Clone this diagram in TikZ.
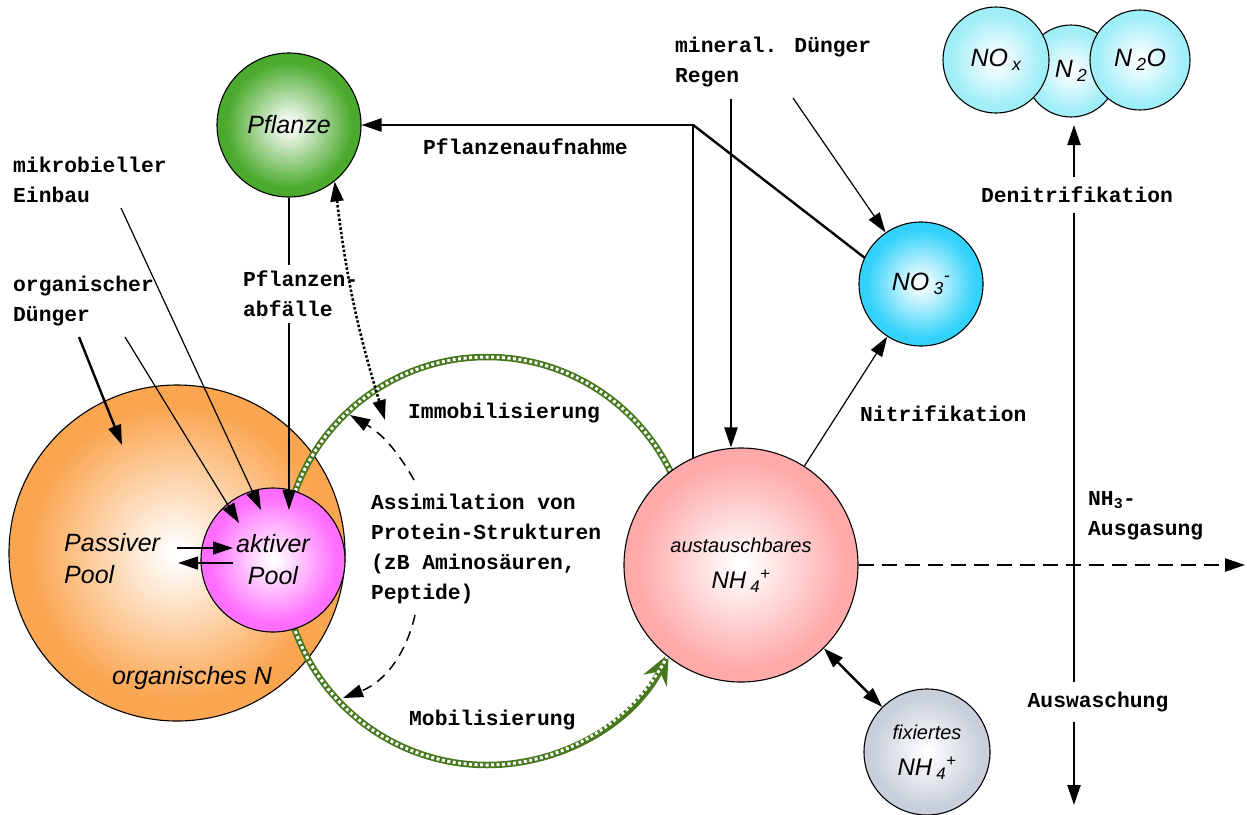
\documentclass[tikz,border=0pt]{standalone}
\usepackage{fontspec}
\newfontfamily\monofam{Liberation Mono}
\newfontfamily\sansfam{Liberation Sans}
\usetikzlibrary{arrows.meta}
\definecolor{orgN}{RGB}{250,165,80}
\definecolor{aktP}{RGB}{255,110,255}
\definecolor{pflG}{RGB}{75,170,45}
\definecolor{ausP}{RGB}{255,170,170}
\definecolor{noC}{RGB}{50,210,250}
\definecolor{gasC}{RGB}{160,238,248}
\definecolor{fixG}{RGB}{200,207,218}
\definecolor{hgreen}{RGB}{70,120,30}
\colorlet{ballin}{white}\colorlet{ballout}{gray}
\pgfdeclareradialshading[ballin,ballout]{ball}{\pgfpoint{0bp}{0bp}}{color(0bp)=(ballin); color(1bp)=(ballin); color(22bp)=(ballout); color(50bp)=(ballout)}
\newcommand{\labfont}{\monofam\bfseries\fontsize{21.3}{30}\selectfont}
\newcommand{\ballfont}{\sansfam\itshape\fontsize{25}{32}\selectfont}
\newcommand{\smallballfont}{\sansfam\itshape\fontsize{20}{36}\selectfont}
\newcommand{\nhfour}{{\fontsize{24}{36}\selectfont NH\,\textsubscript{4}\textsuperscript{+}}}

\begin{document}
\begin{tikzpicture}[x=1pt,y=1pt, ball/.style={circle,draw,line width=1.1pt,inner sep=0pt,align=center,shading=ball,/utils/exec={\colorlet{ballout}{#1}},font=\ballfont}, lbl/.style={font=\labfont,align=left,inner sep=0pt,anchor=west}, con/.style={line width=1.2pt}, thk/.style={line width=2.4pt}, dsh/.style={line width=1.5pt,dash pattern=on 10pt off 7pt}, dots/.style={line width=2.6pt,dash pattern=on 2.5pt off 2pt}, hatch/.style={draw=hgreen,line width=6.5pt,postaction={draw=white,line width=3pt,dash pattern=on 3pt off 2.5pt,-}}, >={Triangle[length=20pt,width=13pt]}]
\useasboundingbox (0,0) rectangle (1247,-814);
% pools
\node[ball=orgN,minimum size=336pt] (org) at (177,-553) {};
\coordinate (hc) at (487,-561);
\draw[hatch] (hc) ++(180:204) arc[start angle=180,end angle=0,radius=204];
\draw[hatch,-{Stealth[length=30pt,width=26pt,inset=10pt]}] (hc) ++(180:204) arc[start angle=180,end angle=333,radius=204];
\node[ball=aktP,minimum size=144pt] (akt) at (273,-560) {aktiver\\Pool};
\node[font=\ballfont,align=left,inner sep=0pt,anchor=west] (pas) at (64,-559) {Passiver\\Pool};
\node[font=\ballfont] (orgtxt) at (192,-678) {organisches N};
\node[ball=pflG,minimum size=144pt] (pfl) at (289,-125) {Pflanze};
\node[ball=ausP,minimum size=234pt,font=\smallballfont] (aus) at (741,-565) {austauschbares\\\nhfour};
\node[ball=noC,minimum size=124pt] (no3) at (921,-284) {NO\,\textsubscript{3}\textsuperscript{-}};
\node[ball=gasC,minimum size=92pt] (n2) at (1071,-71) {N\,\textsubscript{2}};
\node[ball=gasC,minimum size=106pt] (nox) at (996,-60) {NO\,\textsubscript{x}};
\node[ball=gasC,minimum size=100pt] (n2o) at (1140,-60) {N\,\textsubscript{2}O};
\node[ball=fixG,minimum size=126pt,font=\smallballfont] (fix) at (927,-752) {fixiertes\\\nhfour};
% labels
\node[lbl] (mik) at (13,-180) {mikrobieller\\Einbau};
\node[lbl] (odg) at (13,-301) {organischer\\Dünger};
\node[lbl,inner ysep=6pt] (abf) at (243,-294) {Pflanzen-\\abfälle};
\node[lbl] (auf) at (423,-147) {Pflanzenaufnahme};
\node[lbl] (min) at (675,-62) {mineral. Dünger\\Regen};
\node[lbl] (immo) at (408,-413) {Immobilisierung};
\node[lbl] (assim) at (371,-549) {Assimilation von\\Protein-Strukturen\\(zB Aminosäuren,\\Peptide)};
\node[lbl] (mobi) at (409,-720) {Mobilisierung};
\node[lbl] (nitr) at (860,-414) {Nitrifikation};
\node[lbl,anchor=center,inner ysep=10pt] (deni) at (1077,-195) {Denitrifikation};
\node[lbl] (nh3) at (1088,-516) {NH\textsubscript{3}-\\Ausgasung};
\node[lbl,anchor=center,inner ysep=10pt] (ausw) at (1098,-702) {Auswaschung};
% inputs
\coordinate (mik0) at (121,-208); \coordinate (mik1) at (261,-510);
\coordinate (odg0) at (125,-337); \coordinate (odg1) at (239,-523);
\coordinate (odgp0) at (79,-337); \coordinate (odgp1) at (122,-445);
\coordinate (abf1) at (289,-510);
\draw[->,con] (mik0)--(mik1); \draw[->,con] (odg0)--(odg1); \draw[->,thk] (odgp0)--(odgp1);
\draw[con] (pfl.south)--(pfl.south |- abf.north); \draw[->,con] (pfl.south |- abf.south)--(abf1);
\coordinate (p1) at (177,-548); \coordinate (p2) at (233,-548);
\coordinate (p3) at (233,-563); \coordinate (p4) at (178,-563);
\draw[->,con] (p1)--(p2); \draw[->,con] (p3)--(p4);
% immobilisation / assimilation
\coordinate (dt) at (385,-420);
\draw[<->,dots] (pfl.-51) to[bend right=5] (dt);
\coordinate (as1) at (414,-480); \coordinate (as2) at (350,-415);
\coordinate (as3) at (415,-615); \coordinate (as4) at (343,-698);
\draw[->,dsh] (as1) to[bend right=15] (as2); \draw[->,dsh] (as3) to[bend left=28] (as4);
% mineral side
\coordinate (min0) at (731,-99); \coordinate (reg0) at (793,-98);
\draw[->,thk] (min0)--(min0 |- aus.north); \draw[->,con] (reg0)--(no3);
\draw[->,thk] (aus.114) |- (pfl); \draw[thk] (aus.114 |- pfl)--(no3.155);
\draw[->,con] (aus)--(no3); \draw[<->,thk] (aus)--(fix);
\coordinate (gas1) at (1245,-565);
\draw[->,thk,dash pattern=on 15pt off 8pt] (aus.east)--(gas1);
\coordinate (den1) at (1074,-125); \coordinate (ausw1) at (1074,-805);
\draw[->,thk] (den1 |- deni.north)--(den1); \draw[thk] (den1 |- deni.south)--(den1 |- ausw.north);
\draw[->,thk] (den1 |- ausw.south)--(ausw1);
\end{tikzpicture}
\end{document}
